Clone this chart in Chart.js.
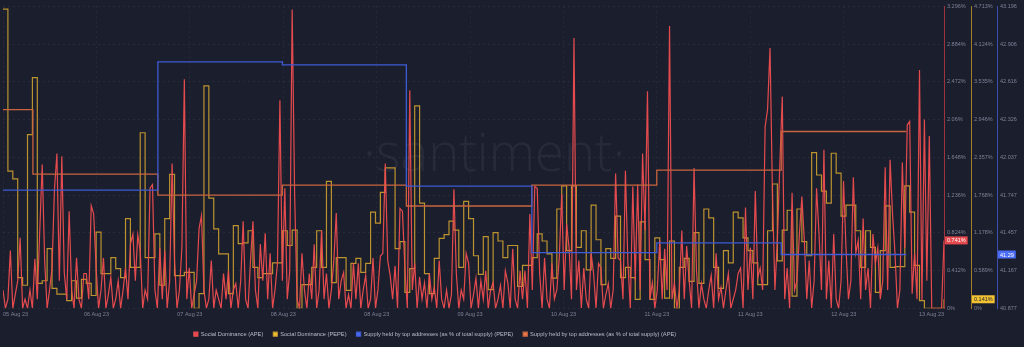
<!DOCTYPE html>
<html>
<head>
<meta charset="utf-8">
<script src="https://cdn.jsdelivr.net/npm/chart.js@4.4.0/dist/chart.umd.min.js"></script>
<style>
html,body{margin:0;padding:0;background:#1b1e2d;}
#wrap{width:1024px;height:347px;position:relative;}
canvas{display:block;}
</style>
</head>
<body>
<div id="wrap"><canvas id="c" width="1024" height="347"></canvas></div>
<script>
// ---------- DATA ----------
const xTickLabels = ['05 Aug 23','06 Aug 23','07 Aug 23','08 Aug 23','08 Aug 23','09 Aug 23','10 Aug 23','11 Aug 23','11 Aug 23','12 Aug 23','13 Aug 23'];
const xMaxHour = 192;      // hours covered by the chart
const xTickStep = 19.06;   // hours between date ticks

const redTickLabels  = ['0%','0.412%','0.824%','1.236%','1.648%','2.06%','2.472%','2.884%','3.296%'];
const pepeTickLabels = ['0%','0.589%','1.178%','1.768%','2.357%','2.946%','3.535%','4.124%','4.713%'];
const supTickLabels  = ['40.877','41.167','41.457','41.747','42.037','42.326','42.616','42.906','43.196'];

// Social Dominance (APE), half-hourly, %
const apeSocialStep = 0.5;
const apeSocial = [
  0.2,0,0.1,0.63,0,0.15,0.3,0.77,0,0.1,
  0,0.2,0,0.54,0.1,0.85,1.57,0.52,0,0.2,
  0.44,1.3,1.69,0.3,1.66,0.39,0.1,1.06,0.2,0,
  0.55,0.1,0,0.38,0.38,0.1,1.12,1.03,0.44,0,
  0.2,0.55,0,0.15,0.34,0,0.1,0.3,0,0.2,
  0.44,0.1,0.7,0.81,0.3,0.8,0.63,0,0.2,0.1,
  1.31,1.35,0.2,0,0.66,0.1,0.63,0,0.3,1.58,
  0.52,0,0.2,0.66,2.5,0.1,0.44,0,0.15,0.3,
  0.87,1.01,0.2,0,0.1,0.52,0,0.2,0.1,0,
  0.38,0.1,0.41,0,0.2,0.27,0,0.3,0.95,0.1,
  0,0.52,0.95,0.2,0,0.7,0.3,0.82,0.1,0.6,
  0,0.2,0.49,2.27,0.3,1.31,0.1,0.4,3.26,1.25,
  0.1,0,0.6,0.2,0,0.38,0.1,0.7,0,0.2,
  0.85,0.1,0.38,0,0.2,0.52,1.04,0.1,0.3,0.39,
  0,0.15,0,0.49,0.1,0.49,0,0.2,0.36,0,
  0.1,0.55,0,0.2,0.57,0.6,1.58,0.52,0.36,0.1,
  0.46,0,1.09,1.06,0.44,0,2.38,0.2,0.49,0,
  0.34,0.1,0.28,0,0.38,0.1,0.23,0,0.52,0.1,
  0,0.2,0,0.15,1.3,0.38,0,0.2,0.1,0.6,
  0.49,0,0.15,0.33,0,0.3,0.1,0.41,0,0.2,
  0.28,0,0.1,0.25,0,0.41,0.28,0,0.65,0.1,
  0,0.41,0.1,0.41,0,1.03,0.2,1.33,1.31,0.38,
  0,0.55,0.1,0,0.49,0.1,0.2,0.55,1.25,0.2,
  0.92,0.66,0.1,2.95,0.2,0.52,0,0.44,0.1,0,
  0.6,0.38,0,0.49,0.44,0,0.15,0.27,0,0.2,
  1.47,0.55,0.52,0.1,1.5,0.5,0,1.33,0.3,1.35,
  0.2,1.69,0.85,2.37,0.1,0.28,0,0.2,0.74,0.1,
  0.65,0.2,3.08,0.1,0.27,0,0.2,0.85,0.1,0.68,
  0.3,0,1.53,0.41,0,0.27,0.1,0,0.2,0.36,
  0,0.6,0.1,0.23,0,0.2,0.38,0,0.1,0.2,
  0.38,0.44,0,1.1,0.2,0.66,0.1,1.28,0.34,0.44,
  0.2,1.98,2.17,2.84,1.25,0.2,0.74,1.57,2.31,0.1,
  0.44,0,1.26,0.2,0.3,0.81,1.22,0.74,0.1,0.52,
  0,0.3,1.31,0.81,0.2,1.73,0.1,0.52,0,0.81,
  0.1,0,0.3,1.39,0.66,0.1,0.3,1.43,0.6,0.74,
  0.1,0.98,0.2,0.44,0,0.81,0.49,0.66,0.1,0.3,
  1.54,0.2,1.62,1.03,0.6,0,0.2,1.59,0.66,2.0,
  2.04,0.16,0.6,0.1,2.6,0.09,2.06,0.3,1.88,0,
  0,0,0,0,0.741
];

// Social Dominance (PEPE), hourly, %
const pepeSocial = [
  4.67,2.14,2.02,0.48,0.36,2.71,3.6,0.39,0.43,0.93,
  0.31,0.22,0.22,0.12,0.43,0.16,0.45,0.39,0.2,1.19,
  0.54,0.54,0.79,0.62,0.48,1.4,0.64,0.64,2.74,0.79,
  0.79,1.16,0.36,1.4,2.09,0.51,0.51,0.56,0.56,0,
  0.23,3.47,1.72,1.24,0.85,0.85,0.23,1.29,1.01,1.02,
  1.21,0.64,0.48,0.54,0.54,0.71,0.71,1.21,0.98,1.22,
  0,0.37,0.37,0.64,1.21,0.64,1.98,0.4,0.79,0.79,
  0.28,0.7,0.78,0.56,0.7,1.5,1.33,1.81,2.19,2.19,
  0.93,1.04,0.25,0.62,3.16,1.64,0.54,0.23,0.78,1.09,
  1.15,1.36,1.22,0.64,1.67,1.4,0.82,0.53,1.12,0.29,
  1.18,1.05,0.79,0.98,0.98,0.34,0.67,0.67,0.79,1.16,
  1.05,0.85,0.47,1.55,1.91,0.9,1.91,0.95,1.21,0.6,
  1.61,1.07,0.37,0.93,0.78,1.44,0.48,0.64,0.48,0.14,
  1.35,0.76,0.14,1.1,0.76,0.16,1.05,0,0.64,0.78,
  0.42,1.18,0.39,1.55,1.41,0.64,0.31,0.9,0.71,1.5,
  1.41,1.1,0.9,0.71,0.37,0.37,1.21,1.94,0.74,1.22,
  1.53,0.19,1.55,1.04,0.82,2.43,2.08,1.83,1.64,2.42,
  2.11,1.44,1.61,1.61,1.21,0.64,1.21,0.95,0.25,0.9,
  1.6,0.64,0.65,0.65,1.91,1.5,0.67,0.12,0,0,
  0,0,0.141
];

// Supply held by top addresses: hours where a new value starts, and the values
const supplyHours = [0, 6.1, 31.6, 57.0, 82.3, 107.9, 133.4, 158.8, 184.3];
const pepeSupply  = [41.785, 41.785, 42.769, 42.746, 41.815, 41.304, 41.380, 41.29, 41.29];
const apeSupply   = [62.632, 61.776, 61.500, 61.632, 61.355, 61.632, 61.829, 62.342, 62.342];

// ---------- CHART ----------
const FONT = '"Liberation Sans", Arial, sans-serif';
const TICK_COLOR = '#7d8296';
const LEGEND_OFFSET = -77;

const apePts  = apeSocial.map((v, i) => ({ x: i * apeSocialStep, y: v }));
const pepePts = pepeSocial.map((v, h) => ({ x: h, y: v }));
const stepPts = vals => supplyHours.map((h, k) => ({ x: h, y: vals[k] }));

function rightAxis(min, max, labels, borderColor, width, weight, showGrid) {
  return {
    type: 'linear', position: 'right', min, max, weight,
    afterBuildTicks: s => { s.ticks = labels.map((_, k) => ({ value: min + (max - min) * k / (labels.length - 1) })); },
    afterFit: s => { s.width = width; },
    ticks: { callback: (v, i) => labels[i], color: TICK_COLOR, font: { size: 5.5, family: FONT }, padding: 3, autoSkip: false },
    border: { display: true, color: borderColor, width: 1, dash: [2, 3] },
    grid: showGrid ? { color: 'rgba(255,255,255,0.055)', drawTicks: false } : { display: false, drawTicks: false }
  };
}

const watermark = {
  id: 'watermark',
  beforeDatasetsDraw(chart) {
    const c = chart.ctx, a = chart.chartArea;
    const t = '\u00B7santiment\u00B7';
    c.save();
    c.font = '300 52px "Open Sans"';
    const w = c.measureText(t).width;
    const size = 52 * 262 / w;
    c.font = `300 ${size}px "Open Sans"`;
    c.fillStyle = 'rgba(255,255,255,0.055)';
    c.textAlign = 'center';
    c.textBaseline = 'alphabetic';
    c.fillText(t, a.left + a.width * 0.522, a.top + a.height * 0.546);
    c.restore();
  }
};

const badges = {
  id: 'badges',
  afterDraw(chart) {
    const c = chart.ctx;
    const specs = [
      { scale: 'yApe',  text: (+apeSocial[apeSocial.length - 1].toFixed(3)) + '%',  value: apeSocial[apeSocial.length - 1],  bg: '#e5484d', fg: '#ffffff' },
      { scale: 'yPepe', text: (+pepeSocial[pepeSocial.length - 1].toFixed(3)) + '%', value: pepeSocial[pepeSocial.length - 1], bg: '#f2c233', fg: '#1b1e2d' },
      { scale: 'ySup',  text: pepeSupply[pepeSupply.length - 1].toFixed(2),          value: pepeSupply[pepeSupply.length - 1], bg: '#4a6cf7', fg: '#ffffff' }
    ];
    c.save();
    c.font = `5.5px ${FONT}`;
    c.textAlign = 'left';
    c.textBaseline = 'middle';
    for (const s of specs) {
      const sc = chart.scales[s.scale];
      const y = sc.getPixelForValue(s.value);
      const w = c.measureText(s.text).width + 4;
      c.fillStyle = s.bg;
      c.fillRect(sc.left + 1, y - 4, w, 8);
      c.fillStyle = s.fg;
      c.fillText(s.text, sc.left + 3, y + 0.5);
    }
    c.restore();
  }
};

const legendShift = {
  id: 'legendShift',
  afterLayout(chart) {
    const L = chart.legend;
    if (L) { L.left += LEGEND_OFFSET; L.right += LEGEND_OFFSET; }
  }
};

new Chart(document.getElementById('c'), {
  type: 'line',
  data: {
    datasets: [
      { label: 'Social Dominance (APE)', data: apePts, yAxisID: 'yApe', order: 2,
        borderColor: 'rgba(240,78,80,0.95)', backgroundColor: '#e5484d', borderWidth: 1.2, pointRadius: 0, tension: 0 },
      { label: 'Social Dominance (PEPE)', data: pepePts, yAxisID: 'yPepe', order: 3, stepped: 'before',
        borderColor: 'rgba(205,160,48,0.9)', backgroundColor: '#f2c233', borderWidth: 1.2, pointRadius: 0 },
      { label: 'Supply held by top addresses (as % of total supply) (PEPE)', data: stepPts(pepeSupply), yAxisID: 'ySup', order: 0, stepped: 'before',
        borderColor: '#3f5bd6', backgroundColor: '#4a6cf7', borderWidth: 1.3, pointRadius: 0 },
      { label: 'Supply held by top addresses (as % of total supply) (APE)', data: stepPts(apeSupply), yAxisID: 'ySupApe', order: 1, stepped: 'before',
        borderColor: '#c8653f', backgroundColor: '#f0784a', borderWidth: 1.3, pointRadius: 0 }
    ]
  },
  options: {
    responsive: false,
    devicePixelRatio: 1,
    animation: false,
    events: [],
    layout: { padding: { top: 4, left: 0, right: 0, bottom: 0 } },
    scales: {
      x: {
        type: 'linear', position: 'bottom', min: 0, max: xMaxHour,
        afterBuildTicks: s => { s.ticks = xTickLabels.map((_, k) => ({ value: k === xTickLabels.length - 1 ? xMaxHour : k * xTickStep })); },
        afterFit: s => { s.height = 13; },
        ticks: { align: 'inner', callback: (v, i) => xTickLabels[i], color: TICK_COLOR, font: { size: 5.5, family: FONT }, padding: 3, autoSkip: false, maxRotation: 0, minRotation: 0 },
        grid: { color: 'rgba(255,255,255,0.05)', drawTicks: false },
        border: { display: false, dash: [2, 3] }
      },
      yApe:  rightAxis(0, 3.296, redTickLabels, 'rgba(200,58,64,0.75)', 27, 0, true),
      yPepe: rightAxis(0, 4.713, pepeTickLabels, 'rgba(196,150,40,0.8)', 26, 1, false),
      ySup:  rightAxis(40.877, 43.196, supTickLabels, 'rgba(64,88,200,0.85)', 27, 2, false),
      ySupApe: { type: 'linear', display: false, min: 60, max: 64 }
    },
    plugins: {
      tooltip: { enabled: false },
      legend: {
        position: 'bottom',
        labels: { color: '#b9bdca', font: { size: 5.7, family: FONT }, boxWidth: 4, boxHeight: 4, padding: 10,
                  sort: (a, b) => a.datasetIndex - b.datasetIndex }
      }
    }
  },
  plugins: [watermark, badges, legendShift]
});
</script>
</body>
</html>
